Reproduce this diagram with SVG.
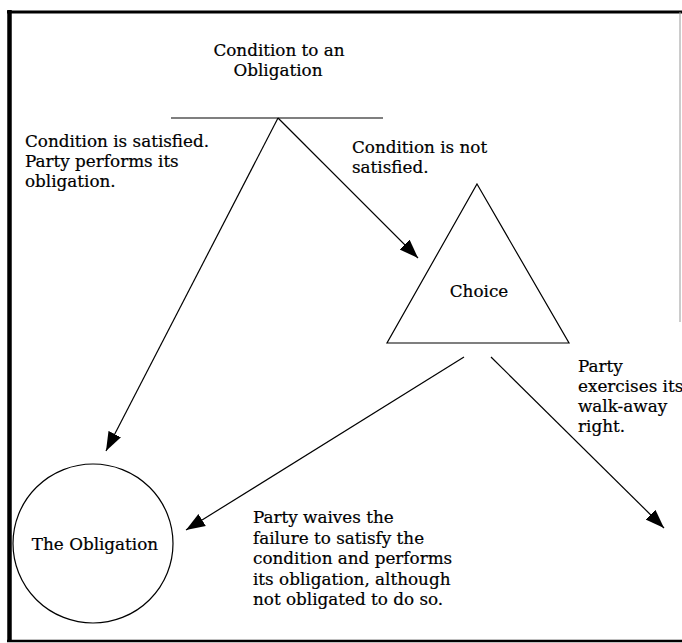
<svg xmlns="http://www.w3.org/2000/svg" width="682" height="643" viewBox="0 0 682 643">
<style>
text{font-family:"DejaVu Serif","Liberation Serif",serif;font-size:16.8px;fill:#000;stroke:#000;stroke-width:0.2}
.c{text-anchor:middle}
.ln{stroke:#000;stroke-width:1.2;fill:none}
.sh{stroke:#000;stroke-width:1.2;fill:#fff}
</style>
<defs>
<marker id="ah" markerUnits="userSpaceOnUse" markerWidth="20" markerHeight="16" viewBox="0 0 20 16" refX="19" refY="8" orient="auto">
<path d="M0,1 L19,8 L0,15 Z" fill="#000"/>
</marker>
</defs>
<g id="frame">
<line x1="9.5" y1="10" x2="9.5" y2="642" stroke="#000" stroke-width="4.5"/>
<line x1="7" y1="12" x2="682" y2="12" stroke="#000" stroke-width="3"/>
<line x1="7" y1="641" x2="682" y2="641" stroke="#000" stroke-width="2.5"/>
<line x1="680" y1="12" x2="680" y2="322" stroke="#999" stroke-width="1"/>
</g>
<g id="condition">
<text class="c" x="279" y="56">Condition to an</text>
<text class="c" x="278" y="76">Obligation</text>
<line class="ln" x1="171" y1="118" x2="383" y2="118"/>
</g>
<g id="choice">
<polygon class="sh" points="477,184 569,343 387,343"/>
<text class="c" x="479" y="297">Choice</text>
</g>
<g id="obligation">
<ellipse class="sh" cx="93" cy="543.5" rx="80" ry="79.5"/>
<text class="c" x="95" y="550">The Obligation</text>
</g>
<g id="connectors">
<line class="ln" x1="278" y1="118" x2="106" y2="451" marker-end="url(#ah)"/>
<line class="ln" x1="278" y1="118" x2="418" y2="258" marker-end="url(#ah)"/>
<line class="ln" x1="464" y1="357" x2="186" y2="530" marker-end="url(#ah)"/>
<line class="ln" x1="491" y1="357" x2="664" y2="528" marker-end="url(#ah)"/>
</g>
<g id="labels">
<text x="25" y="147">Condition is satisfied.</text>
<text x="25" y="167">Party performs its</text>
<text x="25" y="187">obligation.</text>
<text x="352" y="153">Condition is not</text>
<text x="352" y="173">satisfied.</text>
<text x="578" y="372">Party</text>
<text x="578" y="392">exercises its</text>
<text x="578" y="412">walk-away</text>
<text x="578" y="432">right.</text>
<text x="253" y="523">Party waives the</text>
<text x="253" y="543.5">failure to satisfy the</text>
<text x="253" y="564">condition and performs</text>
<text x="253" y="584.5">its obligation, although</text>
<text x="253" y="605">not obligated to do so.</text>
</g>
</svg>
